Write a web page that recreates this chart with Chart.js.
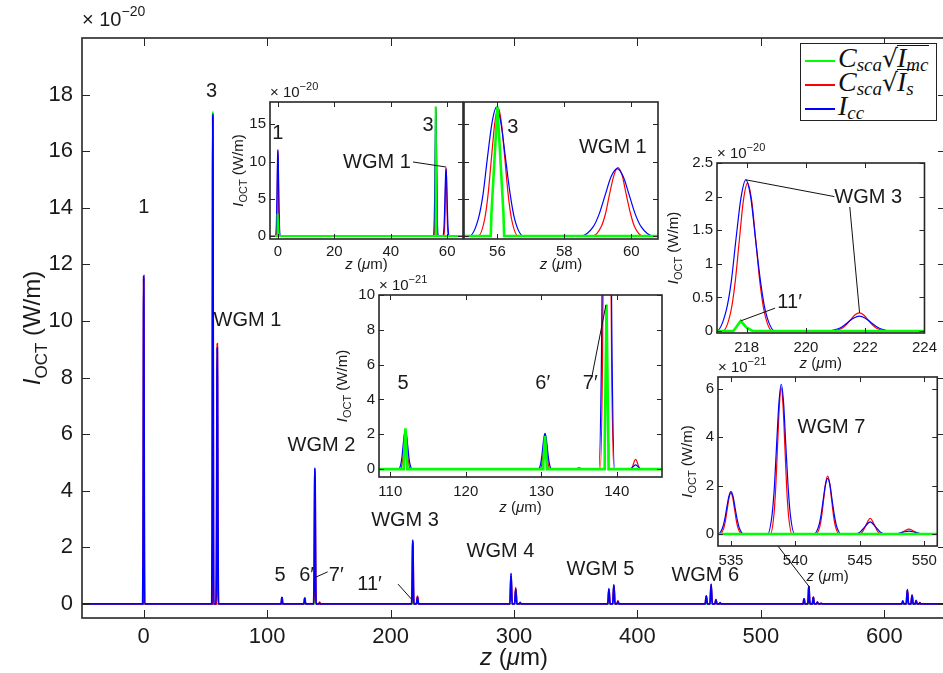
<!DOCTYPE html>
<html lang="en">
<head>
<meta charset="UTF-8">
<title>OCT signal</title>
<script src="https://cdn.jsdelivr.net/npm/chart.js"></script>
<style>
  html, body { margin: 0; padding: 0; background: #fff; overflow: hidden; }
  #fig { position: relative; width: 943px; height: 673px; overflow: hidden; }
  canvas { position: absolute; }
  #legend { position: absolute; left: 800px; top: 43px; width: 137px; height: 78px; background: #fff;
            border: 1px solid #222; box-sizing: border-box; font-family: "Liberation Serif", serif; color: #111; overflow: hidden; }
  #legend .row { position: absolute; left: 4px; height: 28px; white-space: nowrap; font-size: 28px; line-height: 28px; }
  #legend .sw { display: inline-block; width: 30px; height: 2px; vertical-align: middle; margin-right: 3px; }
  #legend i { font-style: italic; }
  #legend sub { font-size: 19px; font-style: italic; vertical-align: -4px; line-height: 0; }
  #legend .rad { font-family: "DejaVu Serif", serif; font-size: 25px; }
  #legend .ov { display: inline-block; border-top: 1.8px solid #111; line-height: 23px; margin-left: -1px; padding-right: 1px; }
</style>
</head>
<body>
<div id="fig">
  <canvas id="cMain"></canvas>
  <canvas id="cA"></canvas>
  <canvas id="cB"></canvas>
  <canvas id="cD"></canvas>
  <canvas id="cC"></canvas>
  <canvas id="cE"></canvas>
  <div id="legend">
    <div class="row" style="top:0px"><span class="sw" style="background:#00ff00"></span><i>C</i><sub>sca</sub><span class="rad">√</span><span class="ov"><i>I</i><sub>mc</sub></span></div>
    <div class="row" style="top:24px"><span class="sw" style="background:#ff0000"></span><i>C</i><sub>sca</sub><span class="rad">√</span><span class="ov"><i>I</i><sub>s</sub></span></div>
    <div class="row" style="top:48px"><span class="sw" style="background:#0000ff"></span><i>I</i><sub>cc</sub></div>
  </div>
</div>
<script>
// z in um, intensity in 1e-20 W/m
// I_cc (blue)
const icc = [
  [-50, 0],
  [-0.81, 0], [-0.54, 1.57], [-0.41, 3.77], [-0.27, 7.04], [-0.14, 10.23], [0, 11.6], [0.14, 10.23], [0.27, 7.04], [0.41, 3.77], [0.54, 1.57], [0.81, 0],
  [55.16, 0], [55.43, 2.34], [55.57, 5.62], [55.70, 10.5], [55.84, 15.26], [55.97, 17.3], [56.10, 15.26], [56.24, 10.5], [56.38, 5.62], [56.51, 2.34], [56.78, 0],
  [58.50, 0], [58.86, 1.22], [59.04, 2.94], [59.22, 5.49], [59.40, 7.98], [59.58, 9.05], [59.76, 7.98], [59.94, 5.49], [60.12, 2.94], [60.30, 1.22], [60.66, 0],
  [111.1, 0], [111.4, 0.030], [111.55, 0.073], [111.7, 0.137], [111.85, 0.198], [112, 0.225], [112.15, 0.198], [112.3, 0.137], [112.45, 0.073], [112.6, 0.030], [112.9, 0],
  [129.6, 0], [129.9, 0.028], [130.05, 0.067], [130.2, 0.124], [130.35, 0.181], [130.5, 0.205], [130.65, 0.181], [130.8, 0.124], [130.95, 0.067], [131.1, 0.028], [131.4, 0],
  [134.4, 0], [135, 0.006], [135.6, 0],
  [137.63, 0], [137.98, 0.648], [138.16, 1.56], [138.33, 2.91], [138.51, 4.23], [138.68, 4.8], [138.86, 4.23], [139.03, 2.91], [139.21, 1.56], [139.38, 0.648], [139.73, 0],
  [141.6, 0], [141.9, 0.0034], [142.2, 0.015], [142.5, 0.025], [142.8, 0.015], [143.1, 0.0034], [143.4, 0],
  [216.98, 0], [217.31, 0.304], [217.48, 0.731], [217.64, 1.366], [217.81, 1.985], [217.97, 2.25], [218.14, 1.985], [218.30, 1.366], [218.47, 0.731], [218.63, 0.304], [218.96, 0],
  [220.69, 0], [221.06, 0.030], [221.25, 0.072], [221.43, 0.134], [221.62, 0.194], [221.8, 0.22], [221.99, 0.194], [222.17, 0.134], [222.36, 0.072], [222.54, 0.030], [222.91, 0],
  [296.7, 0], [297.6, 1.08], [298.5, 0], [300.5, 0], [301.4, 0.52], [302.3, 0], [304.2, 0], [305, 0.03], [305.8, 0],
  [376.0, 0], [376.9, 0.54], [377.8, 0], [380.0, 0], [380.9, 0.68], [381.8, 0], [383.4, 0], [384.2, 0.08], [385.0, 0],
  [454.9, 0], [455.8, 0.28], [456.7, 0], [458.8, 0], [459.7, 0.7], [460.6, 0], [462.8, 0], [463.6, 0.14], [464.4, 0], [466.3, 0], [467, 0.03], [467.7, 0],
  [534.01, 0], [534.34, 0.0236], [534.51, 0.0569], [534.67, 0.1062], [534.84, 0.1544], [535, 0.175], [535.17, 0.1544], [535.33, 0.1062], [535.5, 0.0569], [535.66, 0.0236], [535.99, 0],
  [537.85, 0], [538.2, 0.0837], [538.38, 0.2015], [538.55, 0.3763], [538.73, 0.5468], [538.9, 0.62], [539.08, 0.5468], [539.25, 0.3763], [539.43, 0.2015], [539.6, 0.0837], [539.95, 0],
  [541.45, 0], [541.8, 0.0311], [541.98, 0.0748], [542.15, 0.1396], [542.33, 0.2029], [542.5, 0.23], [542.68, 0.2029], [542.85, 0.1396], [543.03, 0.0748], [543.2, 0.0311], [543.55, 0],
  [544.6, 0], [545.0, 0.0068], [545.4, 0.0304], [545.8, 0.05], [546.2, 0.0304], [546.6, 0.0068], [547.0, 0],
  [547.45, 0], [547.9, 0.0016], [548.35, 0.0073], [548.8, 0.012], [549.25, 0.0073], [549.7, 0.0016], [550.15, 0],
  [614.2, 0], [615, 0.1], [615.8, 0], [617.8, 0], [618.7, 0.5], [619.6, 0], [621.6, 0], [622.5, 0.3], [623.4, 0], [625, 0], [625.8, 0.1], [626.6, 0], [628.1, 0], [628.8, 0.03], [629.5, 0],
  [650, 0]
];

// C_sca sqrt(I_s) (red)
const isca = [
  [-50, 0],
  [-0.6, 0], [-0.4, 1.55], [-0.3, 3.74], [-0.2, 6.98], [-0.1, 10.14], [0, 11.5], [0.1, 10.14], [0.2, 6.98], [0.3, 3.74], [0.4, 1.55], [0.6, 0],
  [55.42, 0], [55.62, 2.32], [55.72, 5.59], [55.82, 10.44], [55.92, 15.17], [56.02, 17.2], [56.12, 15.17], [56.22, 10.44], [56.32, 5.59], [56.42, 2.32], [56.62, 0],
  [58.85, 0], [59.1, 1.24], [59.23, 2.99], [59.35, 5.58], [59.48, 8.11], [59.6, 9.2], [59.73, 8.11], [59.85, 5.58], [59.98, 2.99], [60.1, 1.24], [60.35, 0],
  [111.34, 0], [111.56, 0.030], [111.67, 0.0715], [111.78, 0.1335], [111.89, 0.194], [112, 0.22], [112.11, 0.194], [112.22, 0.1335], [112.33, 0.0715], [112.44, 0.030], [112.66, 0],
  [129.84, 0], [130.06, 0.0263], [130.17, 0.0634], [130.28, 0.1184], [130.39, 0.172], [130.5, 0.195], [130.61, 0.172], [130.72, 0.1184], [130.83, 0.0634], [130.94, 0.0263], [131.16, 0],
  [134.4, 0], [135, 0.006], [135.6, 0],
  [137.82, 0], [138.12, 0.635], [138.27, 1.53], [138.42, 2.85], [138.57, 4.15], [138.72, 4.7], [138.87, 4.15], [139.02, 2.85], [139.17, 1.53], [139.32, 0.635], [139.62, 0],
  [141.75, 0], [142.0, 0.0077], [142.13, 0.0185], [142.25, 0.0346], [142.38, 0.0503], [142.5, 0.057], [142.63, 0.0503], [142.75, 0.0346], [142.88, 0.0185], [143.0, 0.0077], [143.25, 0],
  [217.19, 0], [217.47, 0.297], [217.61, 0.715], [217.75, 1.335], [217.89, 1.94], [218.03, 2.2], [218.17, 1.94], [218.31, 1.335], [218.45, 0.715], [218.59, 0.297], [218.87, 0],
  [220.9, 0], [221.2, 0.0365], [221.35, 0.0878], [221.5, 0.164], [221.65, 0.238], [221.8, 0.27], [221.95, 0.238], [222.1, 0.164], [222.25, 0.0878], [222.4, 0.0365], [222.7, 0],
  [296.7, 0], [297.6, 1.0], [298.5, 0], [300.5, 0], [301.4, 0.57], [302.3, 0], [304.2, 0], [305, 0.05], [305.8, 0],
  [376.0, 0], [376.9, 0.5], [377.8, 0], [380.0, 0], [380.9, 0.65], [381.8, 0], [383.4, 0], [384.2, 0.1], [385.0, 0],
  [454.9, 0], [455.8, 0.27], [456.7, 0], [458.8, 0], [459.7, 0.68], [460.6, 0], [462.8, 0], [463.6, 0.16], [464.4, 0], [466.3, 0], [467, 0.04], [467.7, 0],
  [534.16, 0], [534.44, 0.023], [534.58, 0.0553], [534.72, 0.1032], [534.86, 0.15], [535, 0.17], [535.14, 0.15], [535.28, 0.1032], [535.42, 0.0553], [535.56, 0.023], [535.84, 0],
  [538.06, 0], [538.34, 0.0817], [538.48, 0.1966], [538.62, 0.3672], [538.76, 0.5336], [538.9, 0.605], [539.04, 0.5336], [539.18, 0.3672], [539.32, 0.1966], [539.46, 0.0817], [539.74, 0],
  [541.6, 0], [541.9, 0.0324], [542.05, 0.078], [542.2, 0.1457], [542.35, 0.2117], [542.5, 0.24], [542.65, 0.2117], [542.8, 0.1457], [542.95, 0.078], [543.1, 0.0324], [543.4, 0],
  [544.9, 0], [545.2, 0.0088], [545.5, 0.0395], [545.8, 0.065], [546.1, 0.0395], [546.4, 0.0088], [546.7, 0],
  [547.75, 0], [548.1, 0.0027], [548.45, 0.0121], [548.8, 0.02], [549.15, 0.0121], [549.5, 0.0027], [549.85, 0],
  [614.2, 0], [615, 0.09], [615.8, 0], [617.8, 0], [618.7, 0.48], [619.6, 0], [621.6, 0], [622.5, 0.31], [623.4, 0], [625, 0], [625.8, 0.12], [626.6, 0], [628.1, 0], [628.8, 0.04], [629.5, 0],
  [650, 0]
];

// C_sca sqrt(I_mc) (green)
const imc = [
  [-50, 0],
  [-0.3, 0], [-0.25, 0.4], [0, 3.0], [0.25, 0.4], [0.3, 0],
  [55.8, 0], [55.82, 3.0], [56, 17.4], [56.18, 3.0], [56.2, 0],
  [111.75, 0], [111.78, 0.04], [112, 0.235], [112.22, 0.04], [112.25, 0],
  [130.25, 0], [130.28, 0.035], [130.5, 0.19], [130.72, 0.035], [130.75, 0],
  [138.38, 0], [138.41, 0.15], [138.65, 0.945], [138.89, 0.15], [138.92, 0],
  [217.55, 0], [217.62, 0.04], [217.8, 0.15], [218.0, 0.05], [218.2, 0],
  [650, 0]
];

// tick values
const mainX = [0, 100, 200, 300, 400, 500, 600];
const mainY = [0, 2, 4, 6, 8, 10, 12, 14, 16, 18];
const aX = [0, 20, 40, 60];
const aY = [0, 5, 10, 15];
const bX = [56, 58, 60];
const cX = [218, 220, 222, 224];
const cY = [0, 0.5, 1, 1.5, 2, 2.5];
const dX = [110, 120, 130, 140];
const dY = [0, 2, 4, 6, 8, 10];
const eX = [535, 540, 545, 550];
const eY = [0, 2, 4, 6];

const SANS = '"Liberation Sans", Arial, Helvetica, sans-serif';
const INK = '#1a1a1a';
const BLUE = '#0000ff', RED = '#ff0000', GREEN = '#00ff00';

function runsWidth(ctx, runs) {
  let w = 0;
  runs.forEach(r => { ctx.font = r.f; w += ctx.measureText(r.t).width; });
  return w;
}
function drawRuns(ctx, runs, x, y, align) {
  let cx = align === 'center' ? x - runsWidth(ctx, runs) / 2 : x;
  ctx.textAlign = 'left';
  ctx.textBaseline = 'alphabetic';
  runs.forEach(r => {
    ctx.font = r.f;
    ctx.fillText(r.t, cx, y + (r.dy || 0));
    cx += ctx.measureText(r.t).width;
  });
}
const yTitleRuns = fs => [
  { t: 'I', f: `italic ${fs}px ${SANS}` },
  { t: 'OCT', f: `${Math.round(fs * 0.7)}px ${SANS}`, dy: fs * 0.28 },
  { t: ' (W/m)', f: `${fs}px ${SANS}` }
];
const xTitleRuns = fs => [
  { t: 'z', f: `italic ${fs}px ${SANS}` },
  { t: ' (', f: `${fs}px ${SANS}` },
  { t: 'μ', f: `italic ${fs}px ${SANS}` },
  { t: 'm)', f: `${fs}px ${SANS}` }
];
const expoRuns = (fs, e) => [
  { t: '× 10', f: `${fs}px ${SANS}` },
  { t: e, f: `${Math.round(fs * 0.72)}px ${SANS}`, dy: -fs * 0.5 }
];

// box, inward ticks, labels and axis titles in the MATLAB style
const boxPlugin = {
  id: 'matlabBox',
  beforeDraw(chart) {
    const a = chart.chartArea, ctx = chart.ctx;
    ctx.save();
    ctx.fillStyle = '#fff';
    ctx.fillRect(a.left, a.top, a.right - a.left, a.bottom - a.top);
    ctx.restore();
  },
  afterDatasetsDraw(chart, args, o) {
    const a = chart.chartArea, ctx = chart.ctx;
    const sx = chart.scales.x, sy = chart.scales.y;
    ctx.save();
    ctx.strokeStyle = '#262626';
    ctx.lineWidth = 1;
    ctx.beginPath();
    o.xTicks.forEach(v => {
      const p = Math.round(sx.getPixelForValue(v)) + 0.5;
      ctx.moveTo(p, a.bottom); ctx.lineTo(p, a.bottom - o.tick);
      ctx.moveTo(p, a.top); ctx.lineTo(p, a.top + o.tick);
    });
    o.yTicks.forEach(v => {
      const p = Math.round(sy.getPixelForValue(v)) + 0.5;
      ctx.moveTo(a.left, p); ctx.lineTo(a.left + o.tick, p);
      ctx.moveTo(a.right, p); ctx.lineTo(a.right - o.tick, p);
    });
    ctx.stroke();
    ctx.lineWidth = 1.6;
    ctx.strokeRect(a.left, a.top, a.right - a.left, a.bottom - a.top);

    // leader lines
    ctx.strokeStyle = '#111';
    ctx.lineWidth = 1;
    (o.lines || []).forEach(l => {
      ctx.beginPath();
      ctx.moveTo(sx.getPixelForValue(l[0]), sy.getPixelForValue(l[1]));
      ctx.lineTo(sx.getPixelForValue(l[2]), sy.getPixelForValue(l[3]));
      ctx.stroke();
    });
    // peak labels
    ctx.fillStyle = INK;
    ctx.font = `${o.noteSize}px ${SANS}`;
    ctx.textAlign = 'center';
    ctx.textBaseline = 'middle';
    (o.notes || []).forEach(n => {
      ctx.fillText(n[0], sx.getPixelForValue(n[1]), sy.getPixelForValue(n[2]));
    });
    // exponent
    if (o.expo) drawRuns(ctx, expoRuns(o.expoSize, o.expo), a.left, a.top - o.expoGap, 'left');
    // axis titles
    const fs = o.titleSize;
    drawRuns(ctx, xTitleRuns(fs), (a.left + a.right) / 2, a.bottom + o.xTitleGap + fs * 0.35, 'center');
    if (o.yTitleGap) {
      ctx.save();
      ctx.translate(a.left - o.yTitleGap, (a.top + a.bottom) / 2);
      ctx.rotate(-Math.PI / 2);
      drawRuns(ctx, yTitleRuns(fs), 0, fs * 0.35, 'center');
      ctx.restore();
    }
    ctx.restore();
  }
};

function makeChart(id, box, pad, c) {
  const cv = document.getElementById(id);
  const left = box[0] - pad[0], top = box[1] - pad[1];
  const w = box[2] + pad[2] - left, h = box[3] + pad[3] - top;
  cv.width = w; cv.height = h;
  cv.style.left = left + 'px'; cv.style.top = top + 'px';
  cv.style.width = w + 'px'; cv.style.height = h + 'px';
  const k = c.k || 1;
  const mk = (arr, color, width, smooth) => ({
    data: arr.map(p => ({ x: p[0], y: p[1] * k })),
    borderColor: color, borderWidth: width, pointRadius: 0,
    cubicInterpolationMode: smooth ? 'monotone' : 'default', tension: 0, fill: false
  });
  const sets = {
    g: mk(imc, GREEN, c.gw, false),
    r: mk(isca, RED, c.lw, true),
    b: mk(icc, BLUE, c.lw, true)
  };
  const tickFont = { family: SANS, size: c.tickSize };
  return new Chart(cv, {
    type: 'line',
    // first dataset is painted on top
    data: { datasets: c.order.map(s => sets[s]) },
    options: {
      responsive: false, animation: false, devicePixelRatio: 1,
      layout: { padding: { left: 0, top: pad[1], right: pad[2], bottom: 0 } },
      plugins: {
        legend: { display: false }, tooltip: { enabled: false },
        matlabBox: {
          xTicks: c.xTicks, yTicks: c.yTicks, tick: c.tick, notes: c.notes, lines: c.lines,
          noteSize: c.noteSize, expo: c.expo, expoSize: c.expoSize, expoGap: c.expoGap,
          titleSize: c.titleSize, xTitleGap: c.xTitleGap, yTitleGap: c.yTitleGap
        }
      },
      scales: {
        x: {
          type: 'linear', min: c.xr[0], max: c.xr[1],
          afterBuildTicks: s => { s.ticks = c.xTicks.map(v => ({ value: v })); },
          afterFit: s => { s.height = pad[3]; },
          grid: { display: false, drawTicks: false }, border: { display: false },
          ticks: { autoSkip: false, maxRotation: 0, padding: c.tickPad, font: tickFont, color: INK, callback: v => String(v) }
        },
        y: {
          type: 'linear', min: c.yr[0], max: c.yr[1],
          afterBuildTicks: s => { s.ticks = c.yTicks.map(v => ({ value: v })); },
          afterFit: s => { s.width = pad[0]; },
          grid: { display: false, drawTicks: false }, border: { display: false },
          ticks: { display: c.yLabels !== false, autoSkip: false, padding: c.yPad || c.tickPad, font: tickFont, color: INK, callback: v => String(v) }
        }
      }
    },
    plugins: [boxPlugin]
  });
}

const inset = { order: ['g', 'b', 'r'], lw: 1.2, gw: 2.6, tick: 5, tickSize: 15, tickPad: 6, yPad: 4,
                noteSize: 20, expoSize: 15, expoGap: 5, titleSize: 15, xTitleGap: 30 };

// main axes
makeChart('cMain', [82, 38, 946, 618], [82, 38, 14, 55], {
  xr: [-50, 650], yr: [-0.5, 20], xTicks: mainX, yTicks: mainY,
  order: ['b', 'r', 'g'], lw: 1.8, gw: 1.5, tick: 8, tickSize: 22, tickPad: 6, yPad: 9,
  noteSize: 20, expo: '−20', expoSize: 20, expoGap: 12, titleSize: 24, xTitleGap: 39, yTitleGap: 50,
  notes: [['1', 0, 14.0], ['3', 55, 18.1], ['WGM 1', 84, 10.0], ['WGM 2', 144, 5.6], ['5', 110.5, 1.0],
          ['6′', 132, 1.0], ['7′', 156, 1.0], ['11′', 183, 0.67], ['WGM 3', 211.7, 2.93],
          ['WGM 4', 289, 1.84], ['WGM 5', 370, 1.2], ['WGM 6', 455, 1.02]],
  lines: [[138.7, 0.93, 149, 1.13], [206, 0.7, 217.5, 0.14], [539.3, 0.6, 497, 3.0]]
});

// top-left insets
makeChart('cA', [270, 102, 463, 239], [46, 30, 6, 40], Object.assign({}, inset, {
  xr: [-2.8, 65.6], yr: [-0.4, 18], xTicks: aX, yTicks: aY, expo: '−20', yTitleGap: 32,
  tickPad: 4, xTitleGap: 25, gw: 2,
  notes: [['1', 0, 13.8], ['3', 53.2, 14.9], ['WGM 1', 35.1, 9.94]],
  lines: [[47.9, 9.94, 59.6, 9.27]]
}));
makeChart('cB', [464, 102, 658, 239], [4, 30, 8, 40], Object.assign({}, inset, {
  xr: [55, 60.8], yr: [-0.4, 18], xTicks: bX, yTicks: aY, yLabels: false,
  tickPad: 4, xTitleGap: 25,
  notes: [['3', 56.46, 14.6], ['WGM 1', 59.45, 11.95]]
}));

// WGM 3 inset
makeChart('cC', [717, 163, 931, 333], [57, 30, 12, 42], Object.assign({}, inset, {
  xr: [217, 224], yr: [-0.03, 2.5], xTicks: cX, yTicks: cY, expo: '−20', yTitleGap: 44,
  notes: [['WGM 3', 222.1, 1.98], ['11′', 219.45, 0.42]],
  lines: [[217.97, 2.25, 220.96, 2.0], [221.48, 1.845, 221.81, 0.27], [218.96, 0.34, 217.8, 0.15]]
}));

// middle inset (x 1e-21)
makeChart('cD', [379, 295, 662, 477], [54, 30, 8, 42], Object.assign({}, inset, {
  k: 10, xr: [108.5, 146], yr: [-0.45, 10], xTicks: dX, yTicks: dY, expo: '−21', yTitleGap: 37,
  notes: [['5', 111.7, 4.9], ['6′', 130.2, 4.9], ['7′', 136.5, 4.9]],
  lines: [[136.7, 5.3, 138.57, 9.43]]
}));

// WGM 7 inset (x 1e-21)
makeChart('cE', [718, 377, 941, 546], [53, 30, 2, 42], Object.assign({}, inset, {
  k: 10, xr: [534, 551], yr: [-0.5, 6.5], xTicks: eX, yTicks: eY, expo: '−21', yTitleGap: 31,
  notes: [['WGM 7', 542.8, 4.39]]
}));
</script>
</body>
</html>
